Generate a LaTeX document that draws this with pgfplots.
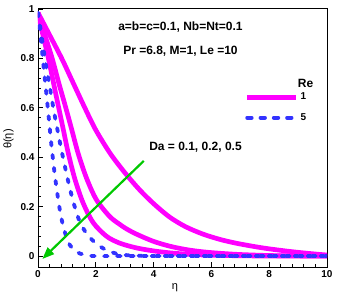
\documentclass[border=0pt]{standalone}
\usepackage{fontspec}
\setmainfont{Liberation Sans}
\usepackage{pgfplots}
\pgfplotsset{compat=1.18}
\usetikzlibrary{arrows.meta}
\definecolor{mag}{RGB}{255,0,255}
\definecolor{blu}{RGB}{51,51,255}
\definecolor{grn}{RGB}{0,200,0}
\begin{document}
\begin{tikzpicture}
\begin{axis}[
  at={(0pt,0pt)}, anchor=south west,
  scale only axis, width=289pt, height=259pt,
  xmin=0, xmax=10, ymin=-0.0445, ymax=1.004,
  xtick={0,2,4,6,8,10}, ytick={0,0.2,0.4,0.6,0.8,1},
  minor x tick num=4, minor y tick num=4,
  tick align=inside, tick pos=left,
  major tick length=5pt, minor tick length=3pt,
  axis line style={line width=0.8pt},
  tick style={black, line width=0.8pt},
  /pgf/number format/assume math mode=true,
  ticklabel style={font=\bfseries\fontsize{10}{12}\selectfont},
  xlabel={η}, ylabel={θ(η)},
  xlabel style={at={(axis description cs:0.474,-0.081)}, anchor=center, font=\fontsize{11}{13}\selectfont},
  ylabel style={at={(axis description cs:-0.102,0.494)}, anchor=center, font=\fontsize{11}{13}\selectfont},
  legend image code/.code={\draw[#1] (0pt,0pt) -- (49pt,0pt);},
  legend style={draw=none, fill=none, at={(axis description cs:0.715,0.68)}, anchor=north west,
    inner sep=0pt, row sep=8pt, font=\bfseries\fontsize{10}{12}\selectfont,
    /tikz/every even column/.append style={column sep=4pt}},
  legend cell align=left,
]
% Re = 1 (magenta)
\addplot[mag, line width=4.7pt, smooth, forget plot] coordinates {
(0,0.985) (0.4,0.895) (0.82,0.80) (1.2,0.705) (1.62,0.60) (2.0,0.51) (2.5,0.415)
(3.0,0.338) (3.5,0.270) (4.0,0.212) (4.55,0.158) (5.1,0.119) (5.7,0.089) (6.3,0.067)
(6.85,0.052) (7.5,0.038) (8.0,0.029) (8.6,0.020) (9.15,0.013) (9.6,0.008) (10,0.004)};
\addplot[mag, line width=4.7pt, smooth, forget plot] coordinates {
(0,0.985) (0.25,0.89) (0.49,0.80) (0.72,0.70) (0.95,0.605) (1.16,0.515) (1.39,0.415)
(1.68,0.315) (2.02,0.228) (2.48,0.160) (2.83,0.128) (3.06,0.110) (3.4,0.089) (3.98,0.060)
(4.55,0.040) (5.13,0.026) (5.7,0.017) (6.3,0.011) (7.0,0.006) (8.0,0.002) (9,0.0005) (10,0)};
\addplot[mag, line width=4.7pt, smooth, forget plot] coordinates {
(0,0.985) (0.18,0.89) (0.36,0.80) (0.6,0.665) (0.87,0.515) (1.05,0.415) (1.28,0.31)
(1.56,0.215) (1.91,0.135) (2.37,0.08) (2.83,0.052) (3.4,0.033) (3.98,0.021) (4.55,0.013)
(5.2,0.007) (6,0.003) (7,0.001) (8,0) (10,0)};
% Re = 5 (blue dotted)
\addplot[blu, line width=3.8pt, line cap=round, dash pattern=on 3.5pt off 9.5pt, smooth, forget plot] coordinates {
(0,0.985) (0.07,0.91) (0.14,0.83) (0.22,0.735) (0.30,0.645) (0.38,0.55) (0.45,0.465)
(0.52,0.39) (0.59,0.32) (0.66,0.26) (0.73,0.205) (0.80,0.158) (0.90,0.108) (1.0,0.072)
(1.1,0.045) (1.25,0.024) (1.45,0.01) (1.7,0.003) (2.0,0) (4,0) (6,0) (8,0) (10,0)};
\addplot[blu, line width=3.8pt, line cap=round, dash pattern=on 3.5pt off 9.5pt, smooth, forget plot] coordinates {
(0,0.985) (0.1,0.91) (0.2,0.83) (0.3,0.755) (0.4,0.69) (0.5,0.62) (0.6,0.555) (0.7,0.495)
(0.8,0.435) (0.9,0.38) (1.0,0.325) (1.1,0.275) (1.2,0.228) (1.3,0.188) (1.4,0.152)
(1.55,0.115) (1.7,0.088) (1.85,0.068) (2.0,0.052) (2.2,0.035) (2.4,0.022) (2.7,0.01)
(3.0,0.004) (3.5,0.001) (4,0) (6,0) (8,0) (10,0)};
% arrow
\addplot[grn, line width=2.2pt, -{Triangle[length=12pt,width=9pt]}, forget plot] coordinates {(3.66,0.385) (0.15,-0.012)};
\addlegendimage{mag, line width=4.7pt}
\addlegendentry{1}
\addlegendimage{blu, line width=3.8pt, line cap=round, dash pattern=on 4.5pt off 8.8pt}
\addlegendentry{5}
\node[font=\bfseries\fontsize{12}{14}\selectfont] at (axis cs:4.93,0.927) {a=b=c=0.1, Nb=Nt=0.1};
\node[font=\bfseries\fontsize{12}{14}\selectfont] at (axis cs:4.93,0.830) {Pr =6.8, M=1, Le =10};
\node[font=\bfseries\fontsize{12}{14}\selectfont] at (axis cs:5.45,0.442) {Da = 0.1, 0.2, 0.5};
\node[font=\bfseries\fontsize{12}{14}\selectfont] at (axis cs:9.26,0.698) {Re};
\end{axis}
\pgfresetboundingbox
\useasboundingbox (-38pt,-31pt) rectangle (300pt,267pt);
\end{tikzpicture}
\end{document}
